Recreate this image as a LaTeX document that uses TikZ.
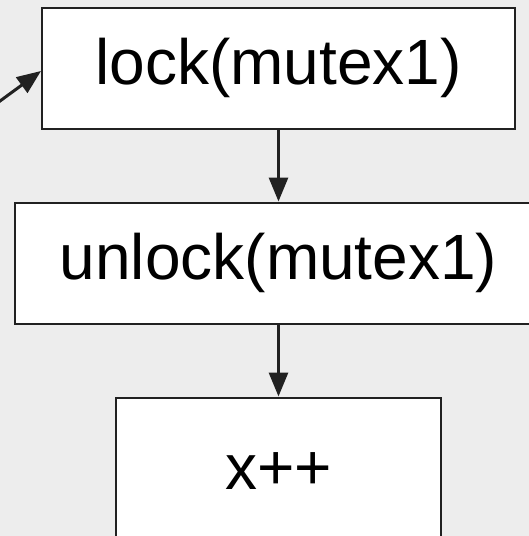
\documentclass[tikz,border=0pt]{standalone}
\usepackage{fontspec}
\setmainfont{Liberation Sans}
\usetikzlibrary{arrows.meta,positioning}

\begin{document}
\begin{tikzpicture}[
  x=1pt,y=-1pt,
  node distance=72pt,
  box/.style={draw=black!87,line width=2pt,fill=white,align=center,inner sep=0pt,
              minimum height=121pt,font=\fontsize{64}{70}\selectfont},
  arrow/.style={-{Triangle[length=24pt,width=19pt]},line width=3pt,draw=black!87,fill=black!87}
]
\useasboundingbox (0,0) rectangle (529,536);
\clip (0,0) rectangle (529,536);
\fill[black!7] (0,0) rectangle (529,536);
\node[box,minimum width=473pt] (lock) at (278.5,68) {lock(mutex1)};
\node[box,minimum width=528pt,below=of lock] (unlock) {unlock(mutex1)};
\node[box,minimum width=325pt,minimum height=148pt,below=of unlock] (inc) {x++};
\coordinate (src) at (-30,123);
\draw[arrow] (src) -- ([yshift=-3pt]lock.west);
\draw[arrow] (lock) -- (unlock);
\draw[arrow] (unlock) -- (inc);
\end{tikzpicture}
\end{document}
